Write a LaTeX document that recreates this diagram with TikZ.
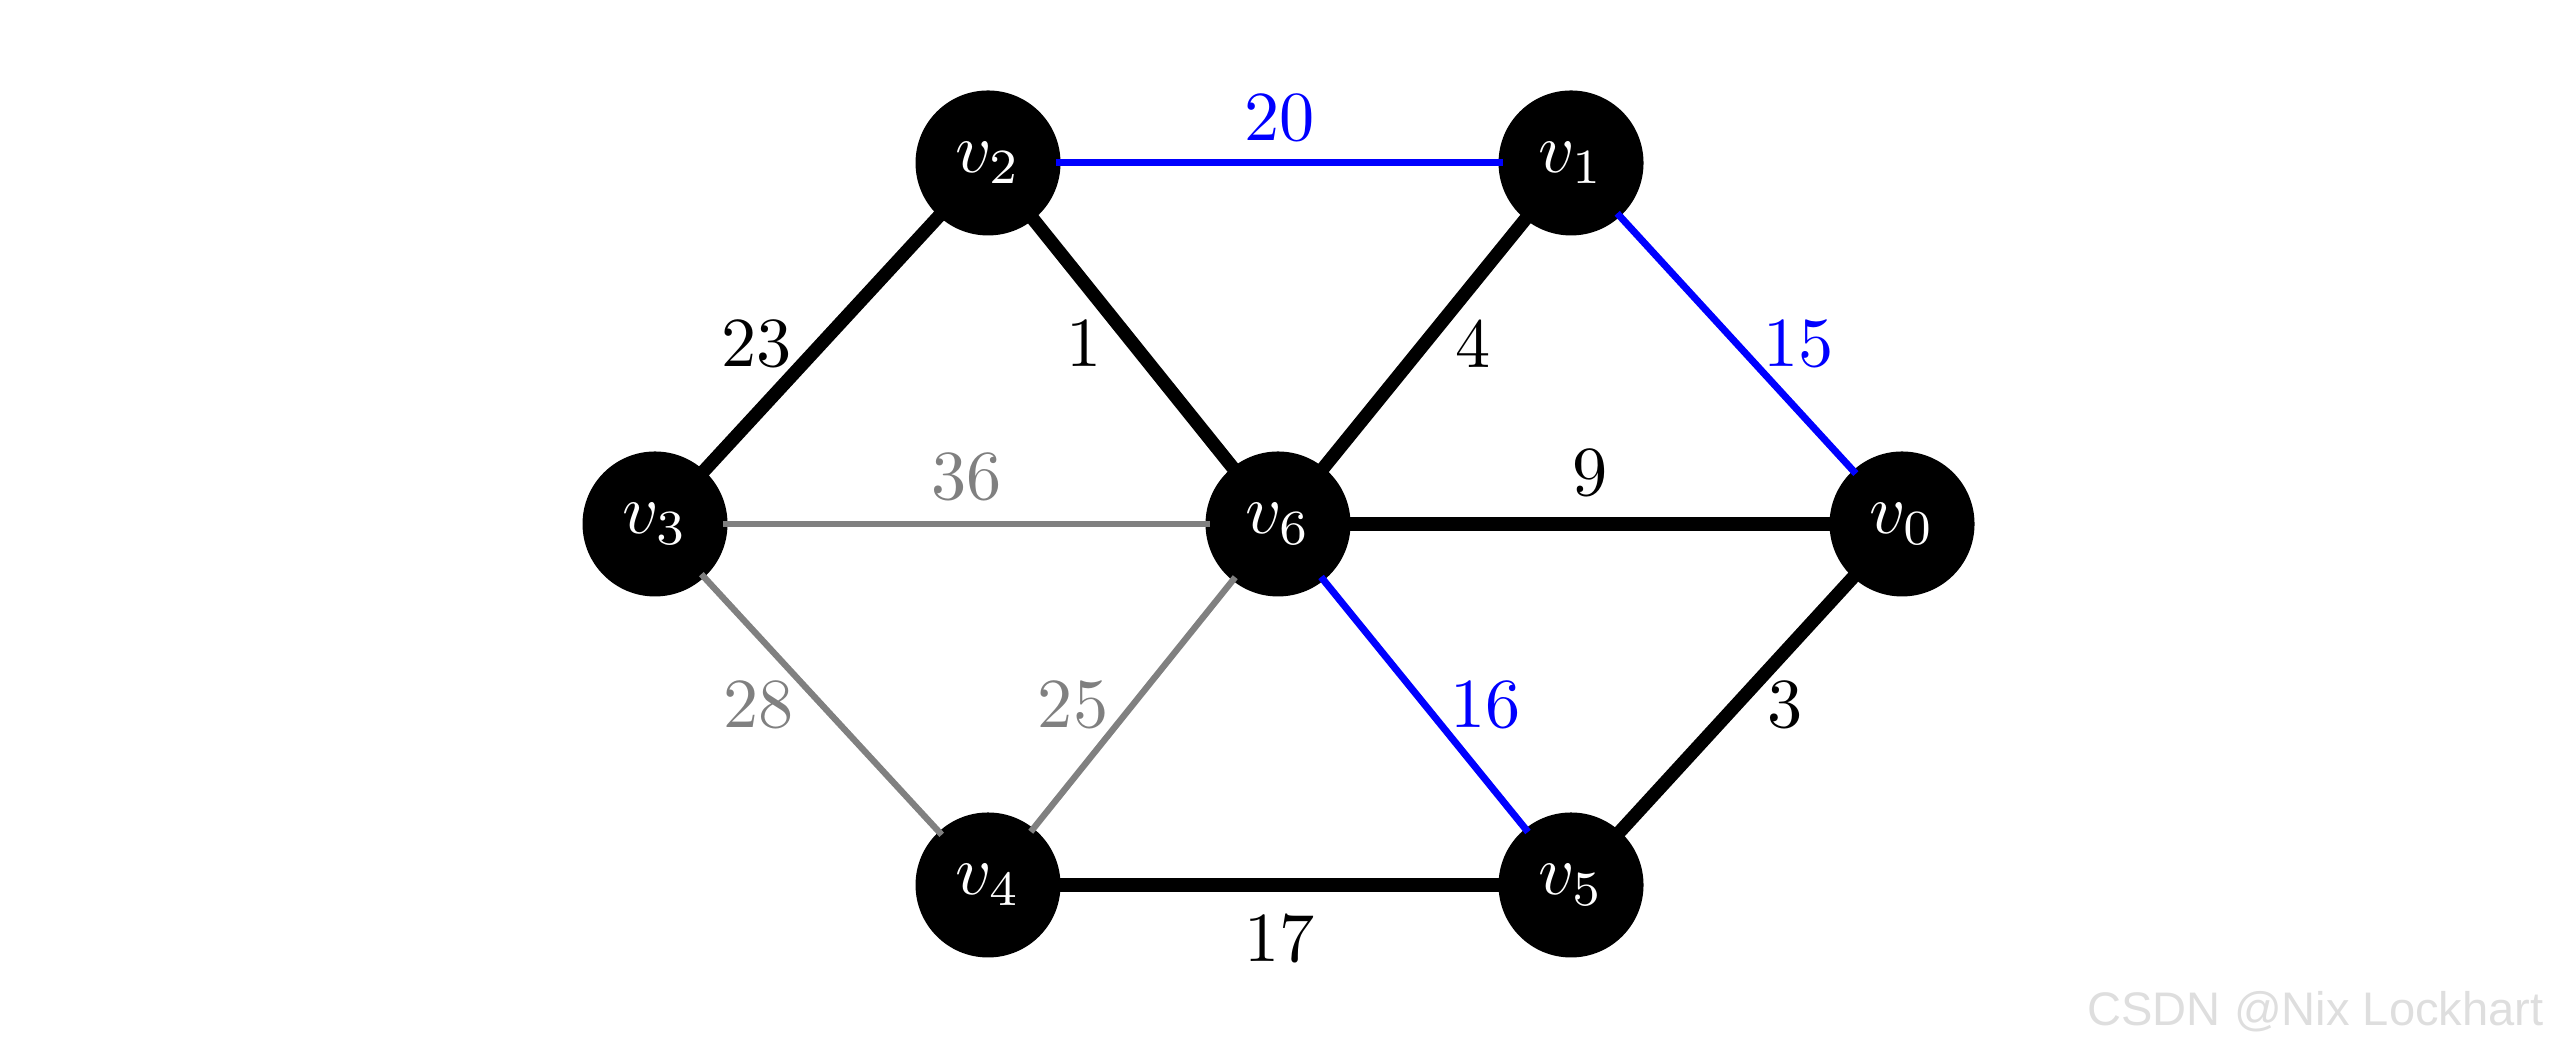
\documentclass[tikz,border=0pt]{standalone}
\usepackage{fontspec}
\newfontfamily\wmfont{Liberation Sans}
\usepackage{tikz}
\usetikzlibrary{positioning}
\definecolor{candEdge}{HTML}{0000FF}
\definecolor{dropEdge}{HTML}{808080}
\definecolor{wmGray}{HTML}{DEDEDE}
\begin{document}
\begin{tikzpicture}[x=5mm, y=5mm, vtx/.style={circle, fill=black, text=white, minimum size=7.25mm, inner sep=0pt, outer sep=-0.6pt}, tree/.style={line width=1.9pt, color=black}, cand/.style={line width=1pt, color=candEdge}, drop/.style={line width=0.9pt, color=dropEdge}]
\useasboundingbox (0,0) rectangle (25.6,10.53);
\node[vtx] (v0) at (19.02,5.29) {$v_0$};
\node[vtx] (v1) at (15.71,8.90) {$v_1$};
\node[vtx] (v2) at (9.88,8.90) {$v_2$};
\node[vtx] (v3) at (6.55,5.29) {$v_3$};
\node[vtx] (v4) at (9.88,1.68) {$v_4$};
\node[vtx] (v5) at (15.71,1.68) {$v_5$};
\node[vtx] (v6) at (12.78,5.29) {$v_6$};
\begin{scope}[on background layer/.try]
\draw[cand] (v2) -- node[midway, yshift=2.25mm] {20} (v1);
\draw[cand] (v1) -- node[midway, xshift=3.1mm] {15} (v0);
\draw[tree] (v3) -- node[midway, xshift=-3.25mm] {23} (v2);
\draw[tree] (v2) -- node[midway, xshift=-2.45mm] {1} (v6);
\draw[tree] (v6) -- node[midway, xshift=2.45mm] {4} (v1);
\draw[drop] (v3) -- node[midway, yshift=2.35mm] {36} (v6);
\draw[tree] (v6) -- node[midway, yshift=2.55mm] {9} (v0);
\draw[drop] (v3) -- node[midway, xshift=-3.15mm] {28} (v4);
\draw[drop] (v4) -- node[midway, xshift=-3mm] {25} (v6);
\draw[cand] (v6) -- node[midway, xshift=3.05mm] {16} (v5);
\draw[tree] (v5) -- node[midway, xshift=2.45mm] {3} (v0);
\draw[tree] (v4) -- node[midway, yshift=-2.7mm] {17} (v5);
\end{scope}
\node[font=\wmfont\fontsize{6.7}{8}\selectfont, color=wmGray, anchor=east, inner sep=0pt] (wm) at (25.45,0.41) {CSDN @Nix Lockhart};
\end{tikzpicture}
\end{document}
